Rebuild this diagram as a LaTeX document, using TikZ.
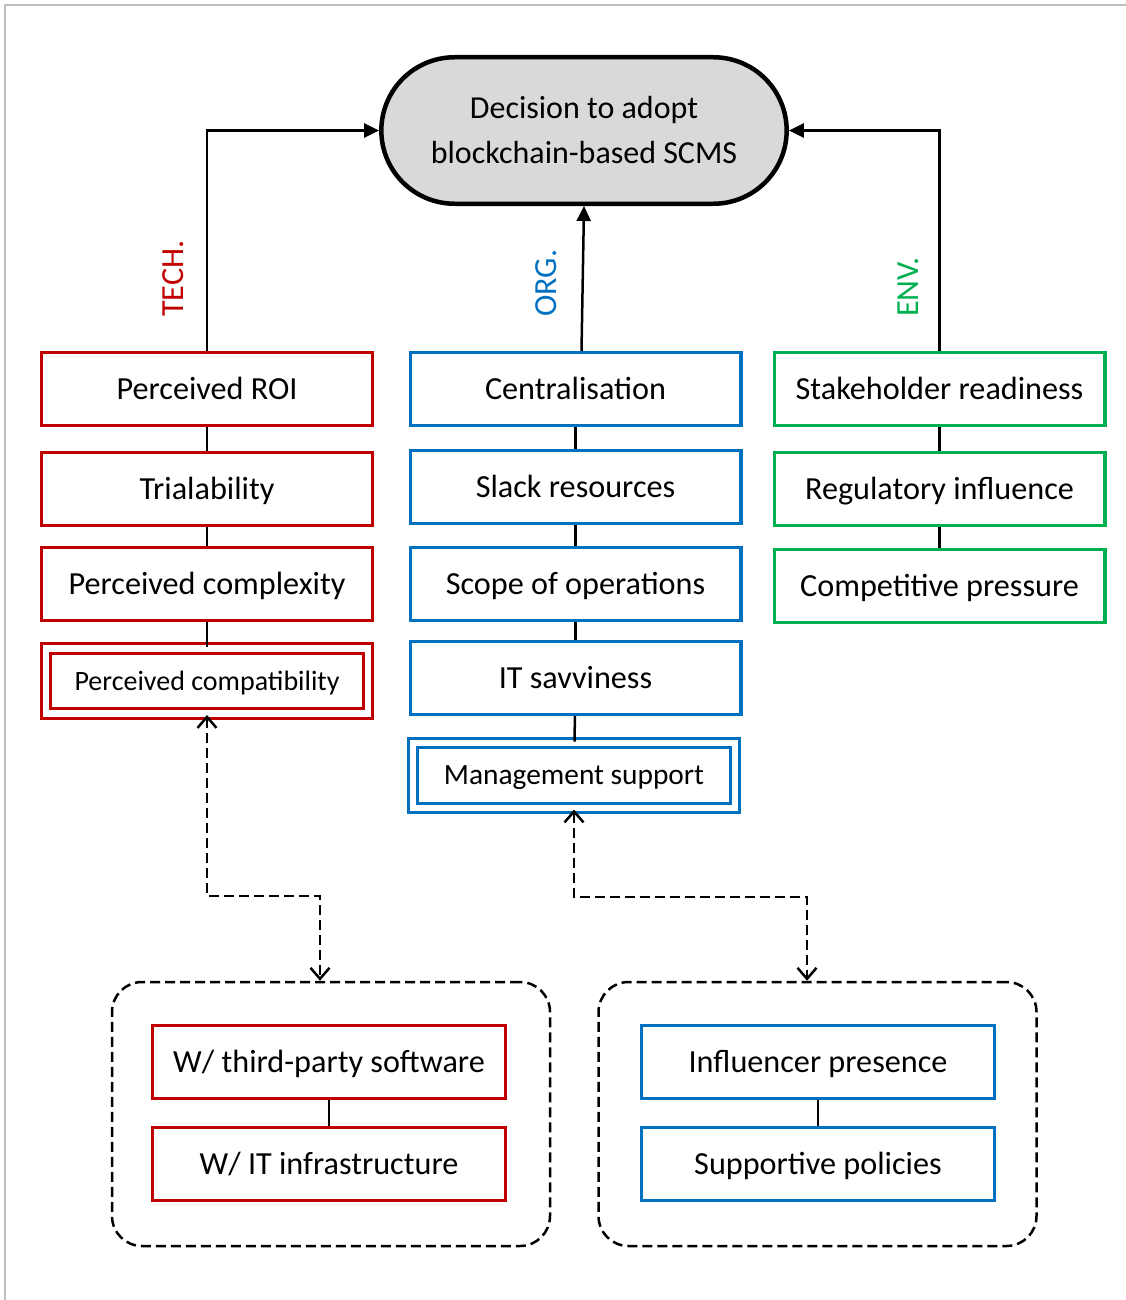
\documentclass[tikz,border=0pt]{standalone}
\usepackage{fontspec}
\setmainfont{Carlito}
\usetikzlibrary{arrows.meta,shapes.misc}
\definecolor{techred}{HTML}{C00000}
\definecolor{orgblue}{HTML}{0070C0}
\definecolor{envgreen}{HTML}{00B050}
\definecolor{decfill}{HTML}{D9D9D9}
\definecolor{framegray}{HTML}{C0C0C0}

\begin{document}
\begin{tikzpicture}[x=1pt,y=-1pt,
  font=\fontsize{32.2}{38}\selectfont,
  factor/.style={draw=#1, line width=3.4pt, fill=white, minimum width=330.6pt,
    minimum height=72.6pt, inner sep=0pt, text height=22pt, text depth=2pt},
  keyfactor/.style={draw=#1, line width=3pt, double=white, double distance=6.5pt,
    minimum width=322pt, minimum height=65pt, inner sep=0pt,
    text height=20pt, text depth=2pt},
  group/.style={draw, line width=2.5pt, dash pattern=on 10pt off 5pt,
    rounded corners=30pt, minimum width=438pt, minimum height=264pt},
  decision/.style={draw, line width=4.5pt, fill=decfill, rounded rectangle,
    minimum width=412pt, minimum height=146.5pt, align=center,
    font=\fontsize{32}{45}\selectfont},
  dimlabel/.style={rotate=90, anchor=base west, inner sep=0pt, text=#1},
  link/.style={line width=2.5pt},
  arr/.style={-{Triangle[length=15pt,width=14pt]}, line width=2.5pt},
  darr/.style={{Straight Barb[length=11pt,width=19pt]}-{Straight Barb[length=11pt,width=19pt]},
    line width=2.5pt, dash pattern=on 10pt off 5pt}
]
\useasboundingbox (0,0) rectangle (1126,1300);

% page frame
\draw[framegray, line width=2pt] (5,1300) -- (5,5) -- (1126,5);

% adoption decision
\node[decision] (dec) at (584,130.5) {Decision to adopt\\blockchain-based SCMS};

% technology factors
\node[factor=techred] (roi)     at (207,389) {Perceived ROI};
\node[factor=techred] (trial)   at (207,489) {Trialability};
\node[factor=techred] (complex) at (207,584) {Perceived complexity};
\node[keyfactor=techred, font=\fontsize{28}{34}\selectfont] (compat) at (207,681) {Perceived compatibility};

% organisation factors
\node[factor=orgblue] (cent)  at (575.5,389) {Centralisation};
\node[factor=orgblue] (slack) at (575.5,487) {Slack resources};
\node[factor=orgblue] (scope) at (575.5,584) {Scope of operations};
\node[factor=orgblue] (savvy) at (575.5,678) {IT savviness};
\node[keyfactor=orgblue, font=\fontsize{29.4}{34}\selectfont] (mgmt) at (574,775.5) {Management support};

% environment factors
\node[factor=envgreen] (stake) at (939.5,389) {Stakeholder readiness};
\node[factor=envgreen] (reg)   at (939.5,489) {Regulatory influence};
\node[factor=envgreen] (comp)  at (939.5,586) {Competitive pressure};

% dimension labels
\node[dimlabel=techred]  (techlbl) at (183,317) {TECH.};
\node[dimlabel=orgblue]  (orglbl)  at (556,317) {ORG.};
\node[dimlabel=envgreen] (envlbl)  at (918,317) {ENV.};

% sub-factor groups
\node[group] (lgrp) at (331,1114) {};
\node[group] (rgrp) at (817.5,1114) {};
\node[factor=techred, minimum width=353pt] (thirdp) at (329,1062) {W/ third-party software};
\node[factor=techred, minimum width=353pt] (itinf)  at (329,1164) {W/ IT infrastructure};
\node[factor=orgblue, minimum width=353pt] (infl)   at (818,1062) {Influencer presence};
\node[factor=orgblue, minimum width=353pt] (policy) at (818,1164) {Supportive policies};

% links within columns
\draw[link] (roi) -- (trial);
\draw[link] (trial) -- (complex);
\draw[link] (complex) -- (compat);
\draw[link] (cent) -- (slack);
\draw[link] (slack) -- (scope);
\draw[link] (scope) -- (savvy);
\draw[link] (savvy) -- (mgmt);
\draw[link] (stake) -- (reg);
\draw[link] (reg) -- (comp);
\draw[link] (thirdp) -- (itinf);
\draw[link] (infl) -- (policy);

% arrows into the decision
\draw[arr] (roi.north) |- (dec.west);
\draw[arr] (stake.north) |- (dec.east);
\draw[arr] ([xshift=6pt]cent.north) -- (dec.south);

% two-way dashed links to sub-factor groups
\coordinate (lbend) at (320,896);
\coordinate (rbend) at (807,897);
\draw[darr] (compat.south) |- (lbend) -- (lbend |- lgrp.north);
\draw[darr] (mgmt.south) |- (rbend) -- (rbend |- rgrp.north);
\end{tikzpicture}
\end{document}
